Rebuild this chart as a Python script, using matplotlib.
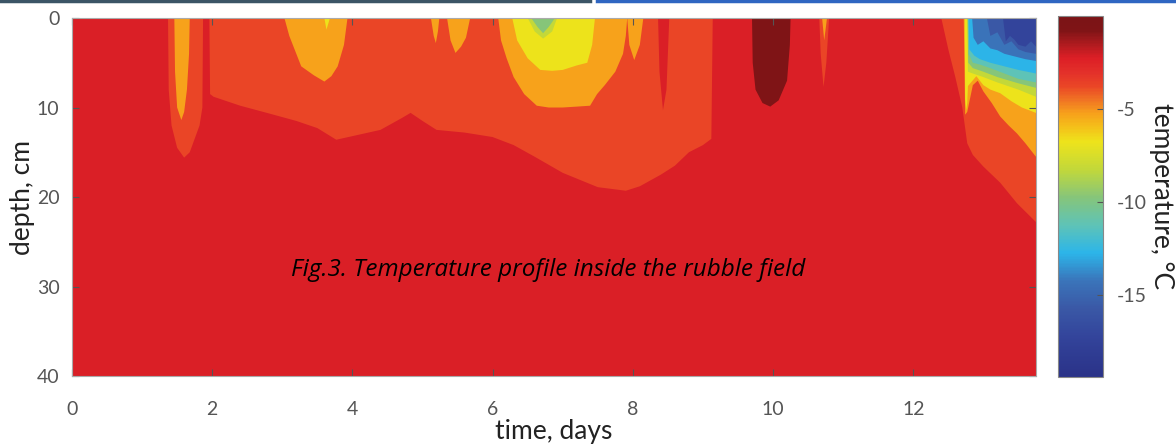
import numpy as np
import matplotlib.pyplot as plt
from matplotlib.colors import LinearSegmentedColormap, Normalize
from matplotlib.cm import ScalarMappable
from matplotlib.lines import Line2D

# record length and profile depth
t_end = 13.75
depth_max = 40

# temperature scale of the colorbar
t_min, t_max = -19.4, 0.0
cbar_ticks = [-5, -10, -15]

# band mid temperatures (°C) used for the filled isotherm regions
band_darkred = -0.75
band_red = -2.25
band_orangered = -3.75
band_amber = -5.25
band_yellow = -6.75
band_ygreen = -8.25
band_green = -9.75
band_teal = -11.25
band_cyan = -12.75
band_blue = -14.25
band_blue2 = -15.75
band_dark = -17.25

# -3 °C isotherm outlines (time, days / depth, cm)
m3_a_t = [1.37, 1.38, 1.42, 1.50, 1.60, 1.68, 1.75, 1.82, 1.86, 1.87]
m3_a_d = [0, 8, 12, 14.5, 15.6, 15.0, 13.5, 12.0, 10.0, 0]
m3_b_t = [1.96, 1.97, 2.02, 2.40, 2.78, 3.20, 3.50, 3.77, 4.00, 4.40, 4.70, 4.83,
          5.00, 5.20, 5.60, 6.00, 6.30, 6.60, 7.00, 7.50, 7.90, 8.10, 8.40, 8.60,
          8.80, 9.00, 9.12, 9.14]
m3_b_d = [0, 8.5, 8.8, 9.8, 10.6, 11.5, 12.3, 13.6, 13.2, 12.5, 11.2, 10.6,
          11.5, 12.5, 12.8, 13.3, 14.2, 15.5, 17.3, 18.9, 19.3, 18.8, 17.5, 16.5,
          15.0, 14.2, 13.5, 0]
m3_c_t = [12.40, 12.50, 12.60, 12.70, 12.77, 12.85, 13.00, 13.24, 13.48, 13.75, 13.75]
m3_c_d = [0, 3.5, 6.6, 10.0, 14.0, 15.3, 16.6, 18.4, 20.7, 22.8, 0]
m3_d_t = [10.66, 10.68, 10.72, 10.76, 10.80]
m3_d_d = [0, 4.0, 7.7, 5.0, 0]

# warmer (> -3 °C) tongue inside the -3 °C region
w3_t = [8.36, 8.38, 8.43, 8.48, 8.52]
w3_d = [0, 6.0, 10.3, 8.0, 0]

# -4.5 °C isotherm outlines
m45_a_t = [1.46, 1.47, 1.50, 1.56, 1.60, 1.64, 1.67, 1.68]
m45_a_d = [0, 6.0, 10.0, 11.4, 10.5, 8.0, 4.0, 0]
m45_b_t = [3.03, 3.10, 3.20, 3.27, 3.45, 3.60, 3.70, 3.79, 3.88, 3.93]
m45_b_d = [0, 2.0, 4.0, 5.4, 6.4, 7.1, 6.5, 5.4, 3.0, 0]
m45_c_t = [5.12, 5.16, 5.19, 5.22, 5.24]
m45_c_d = [0, 2.0, 2.8, 1.5, 0]
m45_d_t = [5.35, 5.40, 5.47, 5.55, 5.62, 5.68]
m45_d_d = [0, 2.5, 3.9, 3.2, 2.2, 0]
m45_e_t = [6.08, 6.12, 6.20, 6.30, 6.45, 6.63, 6.80, 7.00, 7.20, 7.39, 7.49,
           7.60, 7.75, 7.86, 7.90, 7.92]
m45_e_d = [0, 2.5, 4.5, 6.6, 8.5, 9.8, 10.0, 10.0, 9.9, 9.8, 8.5,
           7.5, 6.0, 4.0, 2.0, 0]
m45_f_t = [7.92, 7.95, 8.02, 8.10, 8.15]
m45_f_d = [0, 3.0, 4.7, 3.0, 0]
m45_g_t = [10.70, 10.73, 10.77]
m45_g_d = [0, 2.5, 0]
m45_h_t = [12.72, 12.73, 12.74, 12.77, 12.85, 12.92, 13.00, 13.12, 13.24, 13.36,
           13.48, 13.60, 13.75, 13.75]
m45_h_d = [0, 5.0, 10.8, 10.5, 7.5, 7.0, 8.2, 9.5, 11.0, 12.0,
           12.9, 14.0, 15.5, 0]

# -6 °C isotherm outlines
m6_a_t = [6.28, 6.35, 6.50, 6.68, 6.85, 7.00, 7.20, 7.35, 7.42, 7.46]
m6_a_d = [0, 2.5, 4.5, 5.8, 5.9, 5.8, 5.3, 5.0, 3.0, 0]
m6_b_t = [3.60, 3.63, 3.68]
m6_b_d = [0, 1.3, 0]
m6_c_t = [12.735, 12.74, 12.755, 12.77, 12.78, 12.90, 13.00, 13.10, 13.24, 13.40,
          13.55, 13.75, 13.75]
m6_c_d = [0, 9.0, 10.3, 9.5, 7.6, 6.5, 7.5, 8.0, 8.4, 9.3,
          10.0, 10.6, 0]

# -7.5 °C isotherm outlines
m75_a_t = [6.50, 6.60, 6.72, 6.85, 6.92]
m75_a_d = [0, 1.5, 2.3, 1.5, 0]
m75_b_t = [12.77, 12.78, 12.85, 13.00, 13.20, 13.50, 13.75, 13.75]
m75_b_d = [0, 6.0, 6.2, 6.6, 7.2, 8.0, 8.8, 0]

# -9 °C isotherm outlines
m9_a_t = [6.55, 6.64, 6.72, 6.80, 6.89]
m9_a_d = [0, 1.0, 1.7, 1.0, 0]
m9_b_t = [12.775, 12.785, 12.85, 13.00, 13.20, 13.50, 13.75, 13.75]
m9_b_d = [0, 5.0, 5.6, 6.0, 6.6, 7.3, 7.8, 0]

# colder isotherms near the surface at the end of the record
m105_t = [12.78, 12.79, 12.85, 12.95, 13.10, 13.30, 13.50, 13.75, 13.75]
m105_d = [0, 4.0, 5.0, 5.2, 5.6, 6.2, 6.8, 7.2, 0]
m12_t = [12.79, 12.80, 12.87, 12.95, 13.10, 13.30, 13.50, 13.75, 13.75]
m12_d = [0, 3.5, 4.2, 4.6, 5.0, 5.4, 5.8, 6.2, 0]
m135_t = [12.84, 12.86, 12.92, 13.00, 13.10, 13.20, 13.30, 13.45, 13.60, 13.75, 13.75]
m135_d = [0, 2.2, 3.0, 2.6, 3.4, 3.6, 4.0, 4.3, 4.6, 4.8, 0]
m15_t = [13.05, 13.10, 13.20, 13.30, 13.40, 13.50, 13.60, 13.75, 13.75]
m15_d = [0, 2.0, 1.6, 3.0, 2.6, 3.5, 3.8, 4.0, 0]
m165_t = [13.28, 13.32, 13.38, 13.44, 13.50, 13.60, 13.68, 13.75, 13.75]
m165_d = [0, 2.6, 2.0, 2.4, 3.0, 3.2, 2.6, 3.2, 0]

# -1.5 °C isotherm (warm core)
w15_t = [9.70, 9.71, 9.75, 9.85, 9.96, 10.08, 10.20, 10.24, 10.25]
w15_d = [0, 5.0, 8.0, 9.5, 9.9, 9.2, 7.0, 3.0, 0]

# colour scale anchors (°C, colour)
cmap_temps = [-19.4, -17.25, -15.75, -14.25, -12.75, -11.25, -9.75, -8.25,
              -6.75, -6.0, -5.25, -4.5, -3.75, -3.0, -2.25, -1.5, -0.75, 0.0]
cmap_colors = ['#2a3288', '#33449b', '#3a58a6', '#3a74ba', '#2cb5e9', '#5ec3b7',
               '#86c57a', '#c2d83a', '#eee31b', '#f4c21a', '#f7a21b', '#f07424',
               '#ea4626', '#e3302a', '#dd1f26', '#b01b1f', '#7f1416', '#7a1416']

norm = Normalize(vmin=t_min, vmax=t_max)
cmap = LinearSegmentedColormap.from_list(
    'ice', list(zip(norm(np.array(cmap_temps)), cmap_colors)))


def col(v):
    return cmap(norm(v))


plt.rcParams['font.family'] = ['Lato', 'DejaVu Sans']
plt.rcParams['axes.unicode_minus'] = False

fig = plt.figure(figsize=(11.76, 4.48), dpi=100)
ax = fig.add_axes([0.0612, 0.1607, 0.8197, 0.7991])
cax = fig.add_axes([0.8997, 0.1585, 0.0383, 0.8058])

# background band and isotherm regions, warm to cold
ax.fill_between([0, t_end], 0, depth_max, color=col(band_red), lw=0)
for tt, dd in [(m3_a_t, m3_a_d), (m3_b_t, m3_b_d), (m3_c_t, m3_c_d), (m3_d_t, m3_d_d)]:
    ax.fill(tt, dd, color=col(band_orangered), lw=0)
ax.fill(w3_t, w3_d, color=col(band_red), lw=0)
for tt, dd in [(m45_a_t, m45_a_d), (m45_b_t, m45_b_d), (m45_c_t, m45_c_d),
               (m45_d_t, m45_d_d), (m45_e_t, m45_e_d), (m45_f_t, m45_f_d),
               (m45_g_t, m45_g_d), (m45_h_t, m45_h_d)]:
    ax.fill(tt, dd, color=col(band_amber), lw=0)
for tt, dd in [(m6_a_t, m6_a_d), (m6_b_t, m6_b_d), (m6_c_t, m6_c_d)]:
    ax.fill(tt, dd, color=col(band_yellow), lw=0)
for tt, dd in [(m75_a_t, m75_a_d), (m75_b_t, m75_b_d)]:
    ax.fill(tt, dd, color=col(band_ygreen), lw=0)
for tt, dd in [(m9_a_t, m9_a_d), (m9_b_t, m9_b_d)]:
    ax.fill(tt, dd, color=col(band_green), lw=0)
ax.fill(m105_t, m105_d, color=col(band_teal), lw=0)
ax.fill(m12_t, m12_d, color=col(band_cyan), lw=0)
ax.fill(m135_t, m135_d, color=col(band_blue), lw=0)
ax.fill(m15_t, m15_d, color=col(band_blue2), lw=0)
ax.fill(m165_t, m165_d, color=col(band_dark), lw=0)
ax.fill(w15_t, w15_d, color=col(band_darkred), lw=0)

ax.set_xlim(0, t_end)
ax.set_ylim(depth_max, 0)
ax.set_xticks([0, 2, 4, 6, 8, 10, 12])
ax.set_yticks([0, 10, 20, 30, 40])
ax.tick_params(direction='in', top=True, right=True, length=5, width=0.8,
               color='#555555', labelcolor='#555555', labelsize=14)
ax.tick_params(axis='x', pad=18)
ax.tick_params(axis='y', pad=9)
for s in ax.spines.values():
    s.set_color('#aaaaaa')
    s.set_linewidth(0.8)
ax.set_xlabel('time, days', fontsize=19, color='#222222', labelpad=1)
ax.set_ylabel('depth, cm', fontsize=19, color='#222222', labelpad=1)

ax.text(0.494, 0.296, 'Fig.3. Temperature profile inside the rubble field',
        transform=ax.transAxes, ha='center', va='center', fontsize=17.5,
        style='italic', family='Open Sans', color='black')

cb = fig.colorbar(ScalarMappable(norm=norm, cmap=cmap), cax=cax, ticks=cbar_ticks)
cb.outline.set_edgecolor('#888888')
cb.outline.set_linewidth(0.8)
cax.tick_params(direction='in', length=4, color='#555555', labelcolor='#555555',
                labelsize=14, pad=10)
cb.set_label('temperature, °C', fontsize=19, color='#222222', rotation=270,
             va='center', ha='center')
cax.yaxis.set_label_coords(2.3, 0.5)

# page rules above the figure
fig.add_artist(Line2D([0, 0.502], [0.997, 0.997], color='#3b5566', lw=2.5))
fig.add_artist(Line2D([0.508, 1.0], [0.997, 0.997], color='#2f66c2', lw=2.5))

fig.savefig('out.png', dpi=100)
